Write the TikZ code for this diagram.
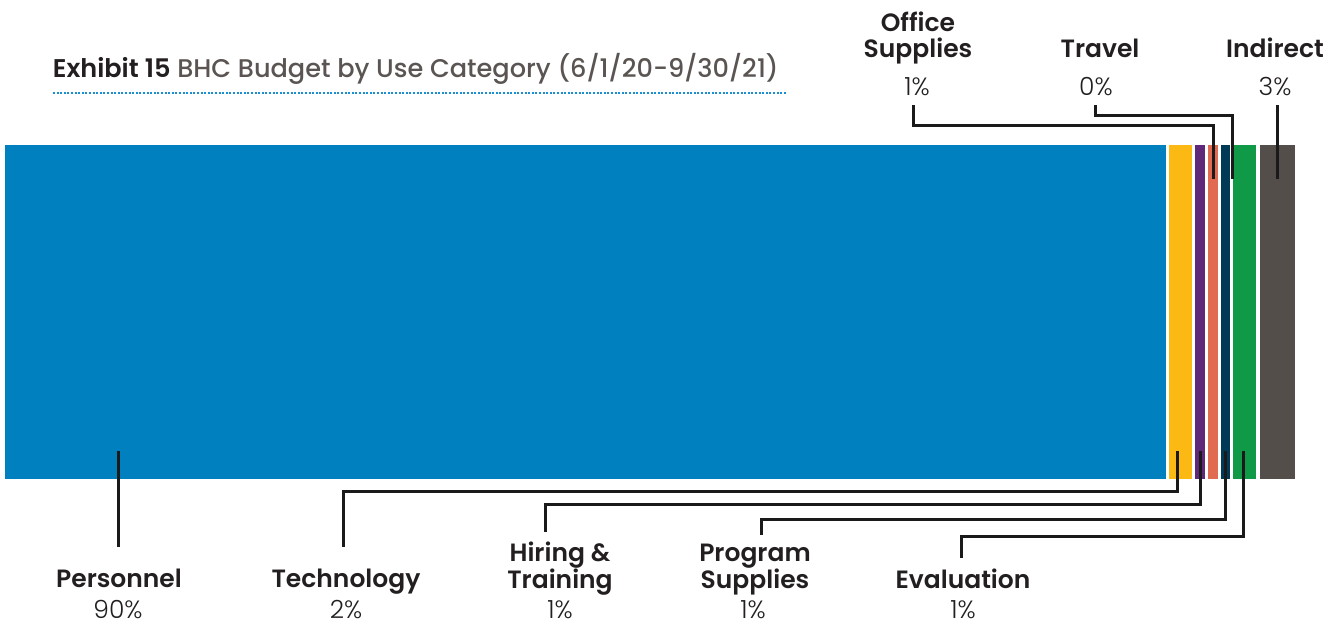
\documentclass[tikz,border=0pt]{standalone}
\usepackage{fontspec}
\setmainfont{Poppins}
\newfontfamily\semib{Poppins SemiBold}
\newfontfamily\medf{Poppins Medium}
\newfontfamily\lightf{Poppins Light}
\definecolor{cblue}{HTML}{0080BE}
\definecolor{cyellow}{HTML}{FDB913}
\definecolor{cpurple}{HTML}{5F2878}
\definecolor{corange}{HTML}{E06B50}
\definecolor{cnavy}{HTML}{003A57}
\definecolor{cgreen}{HTML}{109A47}
\definecolor{cgray}{HTML}{544E4B}
\definecolor{ctitle}{HTML}{5A5552}
\definecolor{cdark}{HTML}{231F20}
\definecolor{cdot}{HTML}{1A8FD0}
\definecolor{cline}{HTML}{1A1A1A}
\begin{document}
\begin{tikzpicture}[x=1pt,y=-1pt,
  lab/.style={anchor=base,inner sep=0,font=\semib\fontsize{25}{25}\selectfont,text=cdark},
  pct/.style={anchor=base,inner sep=0,font=\lightf\fontsize{25}{25}\selectfont,text=cdark},
  conn/.style={draw=cline,line width=3pt}]
\useasboundingbox (0,0) rectangle (1338,625);
% title
\node[anchor=base west,inner sep=0,font=\medf\fontsize{25.6}{25.6}\selectfont] (title) at (52.7,77.3)
  {\textcolor{cdark}{\semib Exhibit 15} \textcolor{ctitle}{BHC Budget by Use Category (6/1/20-9/30/21)}};
\coordinate (dl) at (53,93.3);
\coordinate (dr) at (786,93.3);
\draw[cdot,line width=2pt,dash pattern=on 2pt off 1.6pt] (dl) -- (dr);
% bar segments
\fill[cblue]   (5,145) rectangle (1166,479);
\fill[cyellow] (1169,145) rectangle (1191.7,479);
\fill[cpurple] (1194.7,145) rectangle (1204.7,479);
\fill[corange] (1207.7,145) rectangle (1217.7,479);
\fill[cnavy]   (1220.7,145) rectangle (1230.3,479);
\fill[cgreen]  (1233.3,145) rectangle (1256.3,479);
\fill[cgray]   (1259.7,145) rectangle (1295.3,479);
% connector end points
\coordinate (pA) at (118.7,451);
\coordinate (pB) at (118.7,546.7);
\coordinate (tA) at (1177.7,451);
\coordinate (tB) at (343.3,546.7);
\coordinate (hA) at (1200,451);
\coordinate (hB) at (545.3,532.3);
\coordinate (gA) at (1225.3,451);
\coordinate (gB) at (761.7,535);
\coordinate (eA) at (1243.7,451);
\coordinate (eB) at (961.7,557.7);
\coordinate (oA) at (1213,179);
\coordinate (oB) at (913,105);
\coordinate (vA) at (1232,179);
\coordinate (vB) at (1095,105);
\coordinate (iA) at (1277.7,179);
\coordinate (iB) at (1277.7,105);
% connectors
\draw[conn] (pA) -- (pB);
\draw[conn] (tA) -- ++(0,40.7) -| (tB);
\draw[conn] (hA) -- ++(0,53.3) -| (hB);
\draw[conn] (gA) -- ++(0,68.7) -| (gB);
\draw[conn] (eA) -- ++(0,85) -| (eB);
\draw[conn] (oA) -- ++(0,-54) -| (oB);
\draw[conn] (vA) -- ++(0,-64) -| (vB);
\draw[conn] (iA) -- (iB);
% top labels
\node[lab] (off1) at (918,31.7) {Office};
\node[lab] (off2) at (918,57.3) {Supplies};
\node[pct] (offp) at (917,95) {1\%};
\node[lab] (trv) at (1100,57.3) {Travel};
\node[pct] (trvp) at (1096,95) {0\%};
\node[lab] (ind) at (1275,57.3) {Indirect};
\node[pct] (indp) at (1275,95) {3\%};
% bottom labels
\node[lab] (per) at (119,587) {Personnel};
\node[pct] (perp) at (118,618) {90\%};
\node[lab] (tec) at (346,587) {Technology};
\node[pct] (tecp) at (346,618) {2\%};
\node[lab] (hir1) at (560,561) {Hiring \&};
\node[lab] (hir2) at (560,588) {Training};
\node[pct] (hirp) at (560,618) {1\%};
\node[lab] (prg1) at (755,561) {Program};
\node[lab] (prg2) at (755,588) {Supplies};
\node[pct] (prgp) at (753,618) {1\%};
\node[lab] (evl) at (963,588) {Evaluation};
\node[pct] (evlp) at (963,618) {1\%};
\end{tikzpicture}
\end{document}
